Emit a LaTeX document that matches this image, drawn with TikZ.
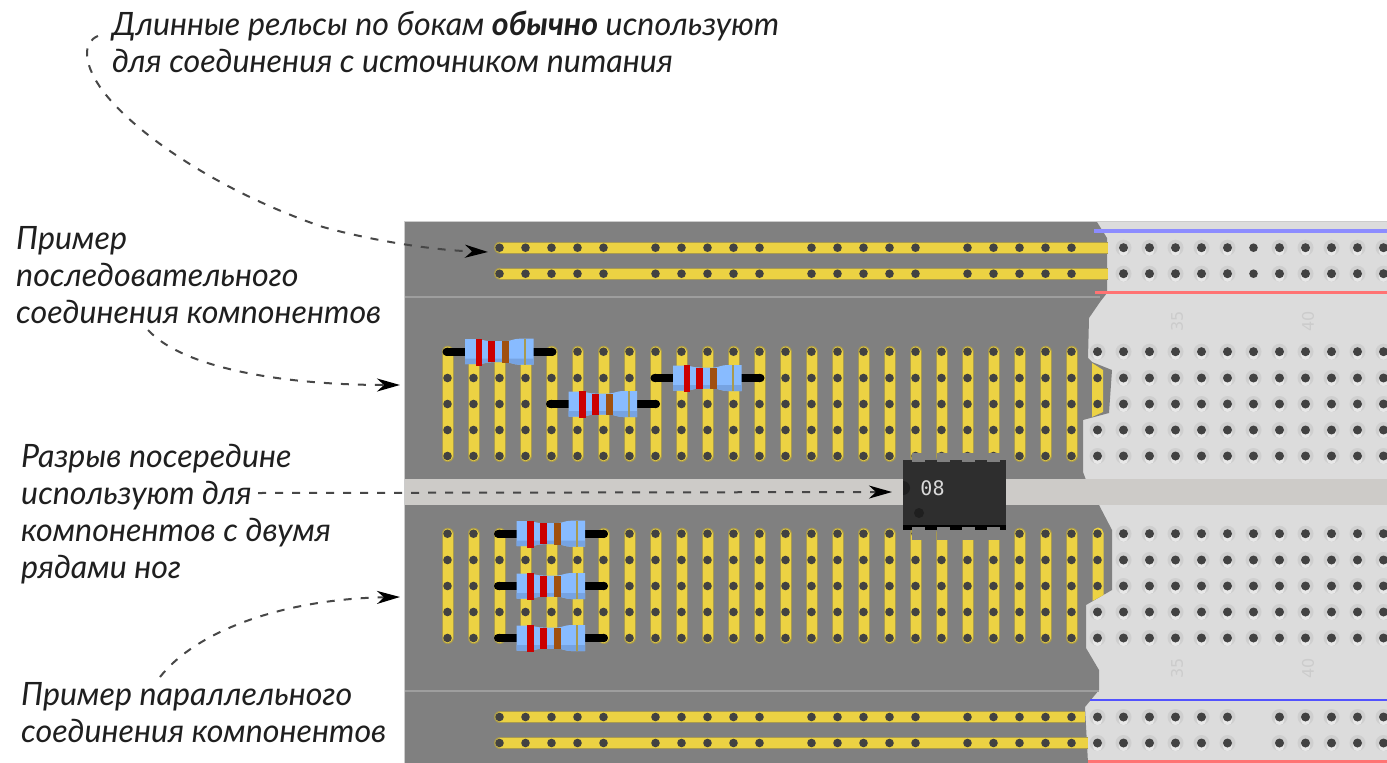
\documentclass[tikz,border=0pt]{standalone}
\usepackage{fontspec}
\setmainfont{Lato}
\newfontfamily\icfont{DejaVu Sans Mono}
\newfontfamily\numfont{DejaVu Sans}
\usetikzlibrary{arrows.meta}
\definecolor{boardgray}{HTML}{808080}
\definecolor{boardlight}{HTML}{DCDCDC}
\definecolor{halo}{HTML}{CFCFCF}
\definecolor{haloglow}{HTML}{E8E8E8}
\definecolor{groove}{HTML}{CDCBC8}
\definecolor{hole}{HTML}{424242}
\definecolor{stripfill}{HTML}{ECD243}
\definecolor{stripedge}{HTML}{A89A50}
\definecolor{rbody}{HTML}{88BBFF}
\definecolor{rshade}{HTML}{76A3E2}
\definecolor{rbrown}{HTML}{A0500F}
\newcommand{\firstline}{\rule{0pt}{28pt}}
\tikzset{
  label text/.style={inner sep=0pt,anchor=north west,align=left,text=black!88,
    font=\fontsize{32.2}{37}\selectfont\itshape},
  callout/.style={draw=black!72,line width=2pt,dash pattern=on 8pt off 9pt,
    -{Stealth[length=23pt,width=13pt,inset=7pt,black]}},
  strip/.style={line cap=round,line width=10pt,draw=stripfill},
  stripline/.style={line cap=round,line width=12pt,draw=stripedge},
  railbar/.style={line width=10pt,draw=stripfill},
  railline/.style={line width=12pt,draw=stripedge},
  holedot/.style={fill=hole,draw=none},
  haloring/.style={fill=halo,draw=none},
  numeral/.style={text=black!20,rotate=90,inner sep=0pt,font=\fontsize{16}{16}\selectfont\numfont},
  resistor/.pic={
    \draw[black,line width=8pt,line cap=round] (-53,0) -- (53,0);
    \fill[rbody] (-34.5,-12.5) -- (-22,-12.5)
      .. controls (-16,-12) and (-14,-10.5) .. (-8,-10.5) -- (6,-10.5)
      .. controls (11,-10.5) and (14,-13) .. (20,-13) -- (34,-13) -- (34,13) -- (20,13)
      .. controls (14,13) and (11,10.5) .. (6,10.5) -- (-8,10.5)
      .. controls (-14,10.5) and (-16,12.5) .. (-22,12.5) -- (-34.5,12.5) -- cycle;
    \fill[rshade] (-34.5,7) -- (34,7) -- (34,13) -- (20,13)
      .. controls (14,13) and (11,10.5) .. (6,10.5) -- (-8,10.5)
      .. controls (-14,10.5) and (-16,12.5) .. (-22,12.5) -- (-34.5,12.5) -- cycle;
    \fill[red!80!black] (-24,-13) rectangle (-17.5,14);
    \fill[red!80!black] (-11.5,-10.5) rectangle (-4.5,10.5);
    \fill[rbrown] (2.5,-10.5) rectangle (9.5,11);
    \fill[stripedge] (24.5,-13) rectangle (26.5,13);
  },
}
\newcommand{\lighthole}[2]{%
  \fill[haloring] (#1,#2) circle (8pt);
  \fill[haloglow] (#1,#2+3.5) circle (4.6pt);
  \fill[holedot] (#1,#2) circle (4.5pt);}
\begin{document}
\begin{tikzpicture}[x=1pt,y=-1pt]
\useasboundingbox (0,0) rectangle (1387,763);
\clip (0,0) rectangle (1387,763);
\fill[white] (0,0) rectangle (1387,763);
% board
\fill[boardlight] (405,222) rectangle (1387,763);
\fill[boardgray] (405,222) -- (1097,222) -- (1107,238) -- (1107,293) -- (1100,302)
  -- (1089,318) -- (1088,358) -- (1092,362) -- (1112,370) -- (1109,413) -- (1083,420)
  -- (1083,472) -- (1086,480) -- (405,480) -- cycle;
\fill[boardgray] (405,505) -- (1099,505) -- (1112,530) -- (1112,590) -- (1086,605)
  -- (1086,648) -- (1099,670) -- (1099,690) -- (1085,707) -- (1088,763) -- (405,763) -- cycle;
\draw[black!20,line width=1pt] (404.5,763) -- (404.5,221.5) -- (1387,221.5);
\fill[groove] (405,479) rectangle (1387,505);
\draw[black!38,line width=2pt] (405,297) -- (1100,297);
\draw[black!38,line width=2pt] (405,691) -- (1099,691);
% coloured rails on the light part
\draw[blue!45!white,line width=3.5pt] (1094,231) -- (1387,231);
\draw[red!55!white,line width=2.5pt] (1095,292.5) -- (1387,292.5);
\draw[blue!68!white,line width=2.5pt] (1090,700) -- (1387,700);
\draw[red!55!white,line width=3pt] (1088,761) -- (1387,761);
% yellow rails
\foreach \y/\e in {247.7/1108,273.7/1108,717/1085,743/1088}{
  \draw[railline] (500,\y) -- (\e,\y);
  \fill[stripedge] (500,\y) circle (6pt);
  \draw[railbar] (500,\y) -- (\e,\y);
  \fill[stripfill] (500,\y) circle (5pt);
}
% yellow columns
\foreach \c in {0,...,24}{
  \pgfmathsetmacro{\xx}{447.5+26*\c}
  \draw[stripline] (\xx,351.7) -- (\xx,456);
  \draw[strip] (\xx,351.7) -- (\xx,456);
  \draw[stripline] (\xx,533.7) -- (\xx,638);
  \draw[strip] (\xx,533.7) -- (\xx,638);
}
\fill[stripfill] (1092,363) -- (1103,370) -- (1103,412) -- (1092,417) -- cycle;
\fill[stripfill] (1092.5,533) arc (180:360:5.5) -- (1103.5,595) -- (1092.5,601) -- cycle;
% holes on the gray part
\foreach \y in {351.7,378,404,430,456,533.7,560,586,612,638}{
  \foreach \c in {0,...,24}{
    \fill[holedot] ({447.5+26*\c},\y) circle (4.3pt);
  }
}
\foreach \y in {247.7,273.7,717,743}{
  \foreach \c in {2,3,4,5,6,8,9,10,11,12,14,15,16,17,18,20,21,22,23,24}{
    \fill[holedot] ({447.5+26*\c},\y) circle (4.3pt);
  }
}
% yellow-column holes at the board edge
\foreach \y in {378,404,533.7,560,586}{ \fill[holedot] (1097.5,\y) circle (4.3pt); }
% holes on the light part
\foreach \y in {351.7,430,456,612,638}{ \lighthole{1097.5}{\y} }
\foreach \y in {351.7,378,404,430,456,533.7,560,586,612,638}{
  \foreach \c in {26,...,36}{
    \lighthole{{447.5+26*\c}}{\y}
  }
}
\foreach \y in {247.7,273.7}{
  \foreach \c in {26,...,30,32,33,34,35,36}{
    \lighthole{{447.5+26*\c}}{\y}
  }
  \fill[holedot] (1253.5,\y) circle (4.3pt);
}
\foreach \y in {717,743}{
  \foreach \c in {25,...,30,32,33,34,35,36}{
    \lighthole{{447.5+26*\c}}{\y}
  }
}
% numerals
\node[numeral] (n35a) at (1177,321) {35};
\node[numeral] (n40a) at (1308,321) {40};
\node[numeral] (n35b) at (1177,668) {35};
\node[numeral] (n40b) at (1308,668) {40};
% resistors
\pic at (499.5,351.7) {resistor};
\pic at (603,404) {resistor};
\pic at (707.5,378) {resistor};
\pic at (551,533.7) {resistor};
\pic at (551,586) {resistor};
\pic at (551,638) {resistor};
% chip
\foreach \xx in {918,943,968,993}{
  \fill[black!50] (\xx-6.5,453) rectangle (\xx+6.5,462);
  \fill[black!50] (\xx-6.5,526) rectangle (\xx+6.5,540);
}
\fill[black!82] (903,460) rectangle (1006,530);
\fill[black] (903,525) rectangle (1006,530);
\foreach \xx in {918,943,968,993}{
  \fill[black!50] (\xx-6.5,527) rectangle (\xx+6.5,530);
  \fill[black!50] (\xx-6.5,459) rectangle (\xx+6.5,462);
}
\fill[black!88] (903,481) arc (-90:90:7);
\fill[black!88] (919,513) circle (5);
\node[inner sep=0pt,text=black!15,font=\fontsize{20}{20}\selectfont\icfont] (chip) at (932.5,488) {08};
% texts
\node[label text] (t1) at (112,7) {\firstline Длинные рельсы по бокам \textbf{обычно} используют\\для соединения с источником питания};
\node[label text] (t2) at (16,221) {\firstline Пример\\последовательного\\соединения компонентов};
\node[label text] (t3) at (21,439) {\firstline Разрыв посередине\\используют для\\компонентов с двумя\\рядами ног};
\node[label text] (t4) at (21,677) {\firstline Пример параллельного\\соединения компонентов};
% connectors
\coordinate (e1) at (488,252);
\coordinate (e2) at (400,385);
\coordinate (e3) at (892,492);
\coordinate (e4) at (400,597);
\coordinate (s1) at (98,36);
\coordinate (s2) at (148,330);
\coordinate (s3) at (258,493);
\coordinate (s4) at (160,677);
\draw[callout] (s1) .. controls (83,42) and (83,62) .. (100,87) .. controls (130,130) and (215,190) .. (323,227) .. controls (370,240) and (430,250) .. (e1);
\draw[callout] (s2) .. controls (185,370) and (290,385) .. (e2);
\draw[callout] (s3) -- (e3);
\draw[callout] (s4) .. controls (197,630) and (285,599) .. (e4);
\end{tikzpicture}
\end{document}
